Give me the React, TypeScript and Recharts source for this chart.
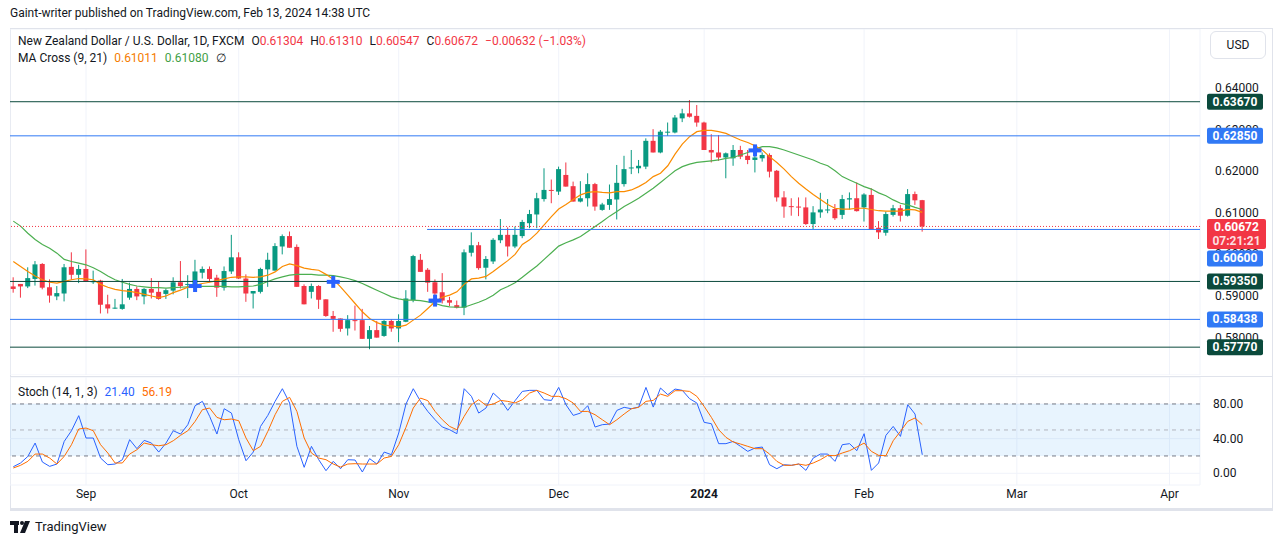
import React from "react";
import {
  Bar,
  CartesianGrid,
  ComposedChart,
  Line,
  ReferenceArea,
  ReferenceLine,
  Scatter,
  XAxis,
  YAxis
} from "recharts";

// NZD/USD daily, FXCM, Aug 18 2023 .. Feb 13 2024 (bar index 0..125)
const opens = [
  0.5923, 0.5929, 0.5923, 0.5941, 0.5977, 0.5921, 0.5899, 0.5906, 0.5970, 0.5951, 0.5965, 0.5933, 0.5937, 0.5880, 0.5870, 0.5869,
  0.5896, 0.5917, 0.5899, 0.5917, 0.5910, 0.5905, 0.5913, 0.5933, 0.5927, 0.5922, 0.5956, 0.5965, 0.5944, 0.5920, 0.5959, 0.5993,
  0.5942, 0.5906, 0.5910, 0.5964, 0.5961, 0.6019, 0.6044, 0.6018, 0.5924, 0.5910, 0.5924, 0.5892, 0.5852, 0.5846, 0.5822, 0.5842,
  0.5842, 0.5797, 0.5818, 0.5804, 0.5840, 0.5822, 0.5838, 0.5890, 0.5987, 0.5963, 0.5933, 0.5909, 0.5890, 0.5878, 0.5872, 0.6004,
  0.6022, 0.5968, 0.5983, 0.6034, 0.6047, 0.6019, 0.6044, 0.6075, 0.6096, 0.6133, 0.6155, 0.6151, 0.6191, 0.6164, 0.6127, 0.6135,
  0.6169, 0.6107, 0.6119, 0.6132, 0.6169, 0.6207, 0.6207, 0.6211, 0.6273, 0.6245, 0.6293, 0.6293, 0.6327, 0.6339, 0.6333, 0.6317,
  0.6251, 0.6245, 0.6233, 0.6231, 0.6251, 0.6237, 0.6227, 0.6231, 0.6239, 0.6201, 0.6137, 0.6116, 0.6115, 0.6113, 0.6073, 0.6101,
  0.6107, 0.6109, 0.6095, 0.6132, 0.6135, 0.6113, 0.6143, 0.6064, 0.6052, 0.6095, 0.6111, 0.6093, 0.6145, 0.61304
];
const highs = [
  0.5945, 0.5929, 0.5969, 0.5984, 0.5979, 0.5940, 0.5924, 0.5977, 0.6005, 0.5975, 0.6012, 0.5961, 0.5939, 0.5903, 0.5893, 0.5941,
  0.5932, 0.5923, 0.5919, 0.5943, 0.5936, 0.5918, 0.5945, 0.5984, 0.5950, 0.5987, 0.5971, 0.5971, 0.5951, 0.5971, 0.6047, 0.6005,
  0.5952, 0.5912, 0.5968, 0.6004, 0.6027, 0.6048, 0.6055, 0.6024, 0.5928, 0.5930, 0.5926, 0.5892, 0.5864, 0.5846, 0.5854, 0.5877,
  0.5869, 0.5828, 0.5840, 0.5842, 0.5844, 0.5856, 0.5914, 0.5999, 0.6001, 0.5967, 0.5940, 0.5955, 0.5898, 0.5889, 0.6012, 0.6053,
  0.6030, 0.5996, 0.6039, 0.6085, 0.6065, 0.6067, 0.6083, 0.6107, 0.6148, 0.6207, 0.6180, 0.6211, 0.6221, 0.6175, 0.6176, 0.6195,
  0.6172, 0.6124, 0.6168, 0.6215, 0.6237, 0.6251, 0.6227, 0.6279, 0.6301, 0.6299, 0.6317, 0.6335, 0.6350, 0.6371, 0.6359, 0.6319,
  0.6289, 0.6287, 0.6245, 0.6263, 0.6261, 0.6251, 0.6263, 0.6245, 0.6243, 0.6203, 0.6152, 0.6135, 0.6137, 0.6137, 0.6116, 0.6148,
  0.6133, 0.6121, 0.6143, 0.6149, 0.6173, 0.6147, 0.6159, 0.6080, 0.6103, 0.6119, 0.6119, 0.6157, 0.6151, 0.61310
];
const lows = [
  0.5908, 0.5896, 0.5919, 0.5925, 0.5916, 0.5884, 0.5890, 0.5887, 0.5939, 0.5931, 0.5935, 0.5929, 0.5858, 0.5858, 0.5869, 0.5867,
  0.5891, 0.5890, 0.5880, 0.5894, 0.5891, 0.5893, 0.5904, 0.5918, 0.5895, 0.5918, 0.5942, 0.5933, 0.5898, 0.5913, 0.5953, 0.5941,
  0.5886, 0.5870, 0.5906, 0.5922, 0.5961, 0.6000, 0.6016, 0.5922, 0.5880, 0.5894, 0.5869, 0.5850, 0.5814, 0.5814, 0.5805, 0.5817,
  0.5797, 0.5772, 0.5800, 0.5802, 0.5814, 0.5789, 0.5837, 0.5885, 0.5958, 0.5910, 0.5898, 0.5882, 0.5876, 0.5870, 0.5854, 0.5995,
  0.5963, 0.5940, 0.5977, 0.6027, 0.5995, 0.6015, 0.6039, 0.6063, 0.6063, 0.6127, 0.6123, 0.6143, 0.6163, 0.6127, 0.6125, 0.6115,
  0.6105, 0.6105, 0.6107, 0.6084, 0.6163, 0.6193, 0.6195, 0.6205, 0.6245, 0.6243, 0.6285, 0.6291, 0.6318, 0.6329, 0.6307, 0.6251,
  0.6221, 0.6225, 0.6183, 0.6213, 0.6229, 0.6217, 0.6197, 0.6223, 0.6185, 0.6127, 0.6088, 0.6093, 0.6092, 0.6071, 0.6061, 0.6088,
  0.6099, 0.6083, 0.6085, 0.6108, 0.6103, 0.6079, 0.6059, 0.6037, 0.6045, 0.6091, 0.6079, 0.6091, 0.6119, 0.60547
];
const closes = [
  0.5917, 0.5923, 0.5943, 0.5976, 0.5920, 0.5901, 0.5907, 0.5969, 0.5951, 0.5965, 0.5935, 0.5936, 0.5879, 0.5870, 0.5872, 0.5880,
  0.5917, 0.5899, 0.5917, 0.5908, 0.5893, 0.5914, 0.5933, 0.5924, 0.5929, 0.5959, 0.5965, 0.5941, 0.5920, 0.5960, 0.5993, 0.5942,
  0.5906, 0.5912, 0.5965, 0.5987, 0.6020, 0.6044, 0.6016, 0.5922, 0.5880, 0.5924, 0.5891, 0.5852, 0.5845, 0.5821, 0.5842, 0.5841,
  0.5797, 0.5818, 0.5800, 0.5840, 0.5822, 0.5840, 0.5894, 0.5996, 0.5958, 0.5932, 0.5906, 0.5889, 0.5884, 0.5872, 0.6005, 0.6022,
  0.5967, 0.5989, 0.6035, 0.6047, 0.6019, 0.6047, 0.6078, 0.6097, 0.6135, 0.6155, 0.6153, 0.6205, 0.6163, 0.6127, 0.6135, 0.6169,
  0.6115, 0.6120, 0.6133, 0.6172, 0.6205, 0.6209, 0.6213, 0.6273, 0.6245, 0.6295, 0.6295, 0.6329, 0.6339, 0.6331, 0.6317, 0.6251,
  0.6245, 0.6233, 0.6243, 0.6251, 0.6235, 0.6227, 0.6233, 0.6239, 0.6199, 0.6137, 0.6115, 0.6115, 0.6113, 0.6073, 0.6101, 0.6108,
  0.6108, 0.6087, 0.6133, 0.6135, 0.6104, 0.6144, 0.6059, 0.6053, 0.6097, 0.6111, 0.6093, 0.6145, 0.6130, 0.60672
];

// MA Cross (9, 21), as plotted
const ma9 = [
  0.5983, 0.5971, 0.5959, 0.5948, 0.5939, 0.5933, 0.5931, 0.5935, 0.5939, 0.5942, 0.5941, 0.5939, 0.5928, 0.5921, 0.5916, 0.5913,
  0.5911, 0.5908, 0.5904, 0.5900, 0.5896, 0.5900, 0.5908, 0.5914, 0.5921, 0.5926, 0.5930, 0.5933, 0.5937, 0.5941, 0.5945, 0.5946,
  0.5946, 0.5945, 0.5946, 0.5950, 0.5958, 0.5971, 0.5977, 0.5973, 0.5967, 0.5964, 0.5962, 0.5952, 0.5940, 0.5922, 0.5902, 0.5882,
  0.5862, 0.5846, 0.5836, 0.5830, 0.5828, 0.5826, 0.5830, 0.5842, 0.5854, 0.5870, 0.5886, 0.5897, 0.5902, 0.5910, 0.5928, 0.5941,
  0.5943, 0.5947, 0.5959, 0.5972, 0.5985, 0.6000, 0.6024, 0.6035, 0.6051, 0.6071, 0.6091, 0.6109, 0.6120, 0.6132, 0.6143, 0.6149,
  0.6151, 0.6149, 0.6148, 0.6151, 0.6151, 0.6155, 0.6163, 0.6173, 0.6187, 0.6195, 0.6213, 0.6241, 0.6265, 0.6283, 0.6295, 0.6298,
  0.6298, 0.6295, 0.6291, 0.6283, 0.6275, 0.6269, 0.6261, 0.6251, 0.6235, 0.6221, 0.6205, 0.6187, 0.6171, 0.6157, 0.6144, 0.6132,
  0.6120, 0.6111, 0.6109, 0.6109, 0.6111, 0.6111, 0.6108, 0.6105, 0.6104, 0.6104, 0.6104, 0.6108, 0.6107, 0.61011
];
const ma21 = [
  0.6080, 0.6068, 0.6051, 0.6036, 0.6024, 0.6015, 0.6003, 0.5988, 0.5983, 0.5979, 0.5975, 0.5968, 0.5959, 0.5948, 0.5939, 0.5933,
  0.5928, 0.5924, 0.5922, 0.5920, 0.5920, 0.5919, 0.5920, 0.5921, 0.5922, 0.5922, 0.5923, 0.5923, 0.5923, 0.5923, 0.5922, 0.5922,
  0.5923, 0.5924, 0.5928, 0.5935, 0.5941, 0.5946, 0.5950, 0.5952, 0.5952, 0.5952, 0.5950, 0.5950, 0.5949, 0.5946, 0.5942, 0.5937,
  0.5930, 0.5922, 0.5914, 0.5906, 0.5898, 0.5893, 0.5890, 0.5890, 0.5889, 0.5886, 0.5882, 0.5877, 0.5874, 0.5873, 0.5873, 0.5879,
  0.5885, 0.5892, 0.5902, 0.5915, 0.5923, 0.5932, 0.5945, 0.5959, 0.5972, 0.5988, 0.6004, 0.6020, 0.6028, 0.6035, 0.6043, 0.6055,
  0.6067, 0.6079, 0.6092, 0.6103, 0.6115, 0.6125, 0.6135, 0.6147, 0.6159, 0.6173, 0.6187, 0.6201, 0.6211, 0.6217, 0.6221, 0.6223,
  0.6225, 0.6227, 0.6231, 0.6233, 0.6239, 0.6245, 0.6253, 0.6259, 0.6259, 0.6256, 0.6251, 0.6245, 0.6239, 0.6233, 0.6227, 0.6219,
  0.6213, 0.6201, 0.6187, 0.6179, 0.6171, 0.6163, 0.6157, 0.6148, 0.6141, 0.6131, 0.6123, 0.6119, 0.6113, 0.61080
];

// Stoch (14, 1, 3): %K and %D
const stochK = [
  7.6, 11.9, 19.5, 34.9, 13.0, 8.0, 10.7, 36.8, 49.1, 66.5, 40.7, 40.7, 17.6, 9.9, 10.7, 15.7,
  38.8, 28.4, 38.0, 34.9, 24.5, 34.9, 49.1, 45.3, 56.1, 78.0, 83.0, 65.7, 45.3, 74.5, 69.5, 38.8,
  14.5, 24.5, 54.1, 66.8, 83.0, 97.6, 81.1, 31.1, 6.9, 31.1, 15.7, 3.0, 13.8, 5.3, 15.7, 15.3,
  1.5, 16.9, 10.7, 24.5, 21.5, 46.5, 79.9, 97.6, 83.0, 71.4, 61.8, 53.4, 50.3, 45.7, 97.6, 88.8,
  69.5, 75.3, 92.6, 84.9, 72.6, 83.8, 94.5, 95.7, 95.7, 84.9, 84.1, 99.1, 79.1, 66.8, 69.5, 78.0,
  53.4, 56.1, 56.8, 72.6, 76.1, 74.5, 76.4, 99.1, 76.4, 98.4, 90.7, 97.2, 95.7, 86.1, 81.1, 58.8,
  57.2, 34.2, 34.2, 36.8, 31.1, 25.3, 29.2, 30.3, 9.9, 5.3, 9.9, 9.2, 10.7, 3.4, 17.6, 22.2,
  22.2, 13.8, 33.0, 34.2, 26.1, 45.7, 3.4, 11.9, 43.8, 54.1, 42.6, 79.1, 68.4, 21.4
];
const stochD = [
  6.1, 9.2, 13.8, 22.2, 22.2, 17.6, 10.7, 19.5, 33.0, 51.1, 52.2, 49.1, 33.0, 23.4, 11.9, 11.9,
  22.2, 27.2, 34.9, 33.0, 31.8, 33.0, 37.6, 43.8, 49.1, 59.9, 73.4, 75.3, 64.5, 61.8, 62.6, 60.7,
  40.7, 26.1, 31.1, 48.4, 67.6, 83.0, 87.6, 71.4, 40.7, 23.4, 17.6, 15.7, 10.7, 7.2, 10.7, 11.1,
  10.7, 10.7, 10.7, 17.6, 19.5, 33.0, 53.0, 75.3, 86.8, 83.8, 71.4, 61.8, 54.1, 50.3, 65.7, 79.1,
  84.9, 78.4, 79.9, 84.1, 83.0, 81.1, 84.9, 92.6, 95.7, 92.6, 88.8, 88.8, 86.1, 81.1, 71.4, 71.4,
  67.6, 61.8, 56.1, 61.8, 68.4, 74.5, 76.1, 83.0, 84.1, 91.4, 88.8, 95.3, 95.3, 94.5, 88.8, 77.2,
  64.5, 50.3, 41.5, 36.1, 33.8, 31.1, 28.4, 28.4, 22.2, 13.8, 9.2, 9.2, 10.7, 9.2, 11.9, 15.7,
  20.7, 20.3, 23.4, 26.1, 30.3, 34.9, 25.3, 20.7, 20.3, 37.6, 48.4, 59.9, 63.8, 56.19
];

// MA cross markers (bar index, price)
const crossIdx = [25, 44, 58, 102];
const crossPrice = [0.5924, 0.5934, 0.5889, 0.625];

// drawn horizontal levels
const keyLevels = [0.6367, 0.6285, 0.5935, 0.58438, 0.5777];
const midLevel = 0.606;
const midLevelStart = 56.9;
const lastPrice = 0.60672;
const countdown = "07:21:21";

const monthTicks = [10, 31, 53, 75, 95, 117, 138, 159];
const monthLabels = ["Sep", "Oct", "Nov", "Dec", "2024", "Feb", "Mar", "Apr"];
const priceTicks = [0.58, 0.59, 0.6, 0.61, 0.62, 0.63, 0.64];
const stochTicks = [0, 40, 80];

const X_DOMAIN: [number, number] = [-0.454, 163.19];
const UP = "#089981";
const DOWN = "#F23645";
const DARK = "#0B4A3C";
const BLUE = "#3179F5";
const TEXT = "#131722";

const priceRows = closes.map((c, i) => ({
  i,
  o: opens[i],
  h: highs[i],
  l: lows[i],
  c,
  ma9: ma9[i],
  ma21: ma21[i]
}));
const stochRows = stochK.map((k, i) => ({ i, k, d: stochD[i] }));
const crossRows = crossIdx.map((i, n) => ({ i, p: crossPrice[n] }));

function Candle(props: any) {
  const { x, y, width, height, payload } = props;
  if (x == null || y == null) return null;
  const { o, h, l, c } = payload;
  const color = c >= o ? UP : DOWN;
  const span = h - l || 1e-9;
  const toY = (v: number) => y + ((h - v) / span) * height;
  const top = toY(Math.max(o, c));
  const bottom = toY(Math.min(o, c));
  const cx = x + width / 2;
  return (
    <g>
      <line x1={cx} x2={cx} y1={y} y2={y + height} stroke={color} strokeWidth={1} />
      <rect x={x} y={top} width={width} height={Math.max(1, bottom - top)} fill={color} />
    </g>
  );
}

function CrossMark(props: any) {
  const { cx, cy } = props;
  if (cx == null || cy == null) return null;
  return (
    <g fill="#2962FF">
      <rect x={cx - 6.5} y={cy - 2} width={13} height={4} />
      <rect x={cx - 2} y={cy - 6} width={4} height={12} />
    </g>
  );
}

// price-scale text, drawn as a reference-line label so the level tags can sit on top of it
function ScaleLabel(props: any) {
  const { viewBox, text } = props;
  if (!viewBox) return null;
  return (
    <text x={viewBox.x + viewBox.width + 15} y={viewBox.y + 4} fill={TEXT} fontSize={12}>
      {text}
    </text>
  );
}

function PriceTag(props: any) {
  const { viewBox, text, sub, bg, shift = 0 } = props;
  if (!viewBox) return null;
  const x = viewBox.x + viewBox.width + 7;
  const w = sub ? 59 : 56;
  const h = sub ? 30 : 16;
  const y = viewBox.y + shift - (sub ? 7.5 : 8);
  return (
    <g>
      <rect x={x} y={y} width={w} height={h} rx={2} fill={bg} />
      <text x={x + w / 2} y={y + 12} textAnchor="middle" fill="#fff" fontSize={12} fontWeight={700}>
        {text}
      </text>
      {sub && (
        <text x={x + w / 2} y={y + 26} textAnchor="middle" fill="rgba(255,255,255,0.85)" fontSize={12} fontWeight={700}>
          {sub}
        </text>
      )}
    </g>
  );
}

function StochTick(props: any) {
  const { x, y, payload } = props;
  return (
    <text x={x} y={y} dy={4} fill={TEXT} fontSize={12}>
      {Number(payload.value).toFixed(2)}
    </text>
  );
}

function MonthTick(props: any) {
  const { x, y, payload } = props;
  const label = monthLabels[monthTicks.indexOf(payload.value)] ?? "";
  return (
    <text x={x} y={y} dy={9} textAnchor="middle" fill={TEXT} fontSize={12} fontWeight={label === "2024" ? 700 : 400}>
      {label}
    </text>
  );
}

function LogoMark() {
  return (
    <svg width={22} height={14} viewBox="0 0 22 14">
      <rect x={0} y={1} width={9} height={4} fill={TEXT} />
      <rect x={4} y={1} width={4} height={12} fill={TEXT} />
      <circle cx={12} cy={3} r={2} fill={TEXT} />
      <polygon points="15,1 20,1 15,13 10,13" fill={TEXT} />
    </svg>
  );
}

export default function App() {
  const font = "Roboto, 'Noto Sans', sans-serif";
  return (
    <div style={{ position: "absolute", left: 0, top: 0, width: 1281, height: 545, background: "#fff", fontFamily: font, color: TEXT }}>
      <div style={{ position: "absolute", left: 10, top: 6, fontSize: 12 }}>
        Gaint-writer published on TradingView.com, Feb 13, 2024 14:38 UTC
      </div>

      {/* frame */}
      <div style={{ position: "absolute", left: 10, top: 28, width: 1261, height: 479, borderTop: "1px solid #e0e3eb", borderLeft: "1px solid #e0e3eb", borderRight: "1px solid #e0e3eb", borderBottom: "3px solid #e0e3eb" }} />
      <div style={{ position: "absolute", left: 10, top: 376, width: 1262, height: 1, background: "#e0e3eb" }} />

      <div style={{ position: "absolute", left: 10, top: 29 }}>
        <ComposedChart width={1262} height={346} data={priceRows} margin={{ top: 0, right: 0, bottom: 0, left: 0 }}>
          <CartesianGrid stroke="#f0f3fa" />
          <XAxis type="number" dataKey="i" domain={X_DOMAIN} ticks={monthTicks} hide allowDataOverflow />
          <YAxis
            orientation="right"
            width={72}
            domain={[0.57101, 0.654183]}
            ticks={priceTicks}
            allowDataOverflow
            axisLine={false}
            tickLine={false}
            tick={false}
          />
          <Bar dataKey={(d: any) => [d.l, d.h]} barSize={5} isAnimationActive={false} shape={(p: any) => <Candle {...p} />} />
          <Line type="linear" dataKey="ma21" stroke="#4CAF50" strokeWidth={1.2} dot={false} isAnimationActive={false} />
          <Line type="linear" dataKey="ma9" stroke="#FB8C00" strokeWidth={1.2} dot={false} isAnimationActive={false} />
          {priceTicks.map((t) => (
            <ReferenceLine key={t} y={t} stroke="none" label={<ScaleLabel text={t.toFixed(5)} />} />
          ))}
          <ReferenceLine y={lastPrice} stroke={DOWN} strokeDasharray="1 2" label={<PriceTag text={lastPrice.toFixed(5)} sub={countdown} bg={DOWN} />} />
          <ReferenceLine
            segment={[{ x: midLevelStart, y: midLevel }, { x: X_DOMAIN[1], y: midLevel }]}
            stroke={BLUE}
            label={<PriceTag text={midLevel.toFixed(5)} bg={BLUE} shift={29} />}
          />
          <ReferenceLine y={keyLevels[0]} stroke={DARK} label={<PriceTag text={keyLevels[0].toFixed(5)} bg={DARK} />} />
          <ReferenceLine y={keyLevels[1]} stroke={BLUE} label={<PriceTag text={keyLevels[1].toFixed(5)} bg={BLUE} />} />
          <ReferenceLine y={keyLevels[2]} stroke={DARK} label={<PriceTag text={keyLevels[2].toFixed(5)} bg={DARK} />} />
          <ReferenceLine y={keyLevels[3]} stroke={BLUE} label={<PriceTag text={keyLevels[3].toFixed(5)} bg={BLUE} />} />
          <ReferenceLine y={keyLevels[4]} stroke={DARK} label={<PriceTag text={keyLevels[4].toFixed(5)} bg={DARK} />} />
          <Scatter data={crossRows} dataKey="p" isAnimationActive={false} shape={(p: any) => <CrossMark {...p} />} />
        </ComposedChart>
      </div>

      <div style={{ position: "absolute", left: 10, top: 377 }}>
        <ComposedChart width={1262} height={131} data={stochRows} margin={{ top: 0, right: 0, bottom: 0, left: 0 }}>
          <ReferenceArea y1={20} y2={80} fill="#2196F3" fillOpacity={0.1} stroke="none" />
          <CartesianGrid stroke="#f0f3fa" />
          <XAxis
            type="number"
            dataKey="i"
            domain={X_DOMAIN}
            ticks={monthTicks}
            interval={0}
            allowDataOverflow
            axisLine={false}
            tickLine={false}
            tickSize={0}
            tickMargin={4}
            height={23}
            tick={<MonthTick />}
          />
          <YAxis
            orientation="right"
            width={72}
            domain={[-13.5, 111.11]}
            ticks={stochTicks}
            allowDataOverflow
            axisLine={false}
            tickLine={false}
            tickSize={0}
            tickMargin={13}
            tick={<StochTick />}
          />
          <ReferenceLine y={80} stroke="#787B86" strokeDasharray="4 4" />
          <ReferenceLine y={50} stroke="#B2B5BE" strokeDasharray="4 4" />
          <ReferenceLine y={20} stroke="#787B86" strokeDasharray="4 4" />
          <Line type="linear" dataKey="k" stroke="#2962FF" strokeWidth={1} dot={false} isAnimationActive={false} />
          <Line type="linear" dataKey="d" stroke="#FF6D00" strokeWidth={1} dot={false} isAnimationActive={false} />
        </ComposedChart>
      </div>

      {/* legends */}
      <div style={{ position: "absolute", left: 18, top: 34, fontSize: 12, whiteSpace: "nowrap" }}>
        New Zealand Dollar / U.S. Dollar, 1D, FXCM
        <span style={{ marginLeft: 7 }}>O</span><span style={{ color: DOWN }}>{opens[opens.length - 1].toFixed(5)}</span>
        <span style={{ marginLeft: 7 }}>H</span><span style={{ color: DOWN }}>{highs[highs.length - 1].toFixed(5)}</span>
        <span style={{ marginLeft: 7 }}>L</span><span style={{ color: DOWN }}>{lows[lows.length - 1].toFixed(5)}</span>
        <span style={{ marginLeft: 7 }}>C</span><span style={{ color: DOWN }}>{closes[closes.length - 1].toFixed(5)}</span>
        <span style={{ marginLeft: 7, color: DOWN }}>−0.00632 (−1.03%)</span>
      </div>
      <div style={{ position: "absolute", left: 18, top: 51, fontSize: 12, whiteSpace: "nowrap" }}>
        MA Cross (9, 21)
        <span style={{ marginLeft: 7, color: "#F57C00" }}>{ma9[ma9.length - 1].toFixed(5)}</span>
        <span style={{ marginLeft: 7, color: "#43A047" }}>{ma21[ma21.length - 1].toFixed(5)}</span>
        <span style={{ marginLeft: 7 }}>∅</span>
      </div>
      <div style={{ position: "absolute", left: 18, top: 385, fontSize: 12, whiteSpace: "nowrap" }}>
        Stoch (14, 1, 3)
        <span style={{ marginLeft: 7, color: "#2962FF" }}>{stochK[stochK.length - 1].toFixed(2)}</span>
        <span style={{ marginLeft: 7, color: "#FF6D00" }}>{stochD[stochD.length - 1].toFixed(2)}</span>
      </div>

      <div style={{ position: "absolute", left: 1210, top: 31, width: 54, height: 26, border: "1px solid #e0e3eb", borderRadius: 6, background: "#fff", fontSize: 12, display: "flex", alignItems: "center", justifyContent: "center" }}>
        USD
      </div>

      <div style={{ position: "absolute", left: 10, top: 519, display: "flex", alignItems: "center", gap: 3, fontSize: 13 }}>
        <LogoMark />
        <span>TradingView</span>
      </div>
    </div>
  );
}
